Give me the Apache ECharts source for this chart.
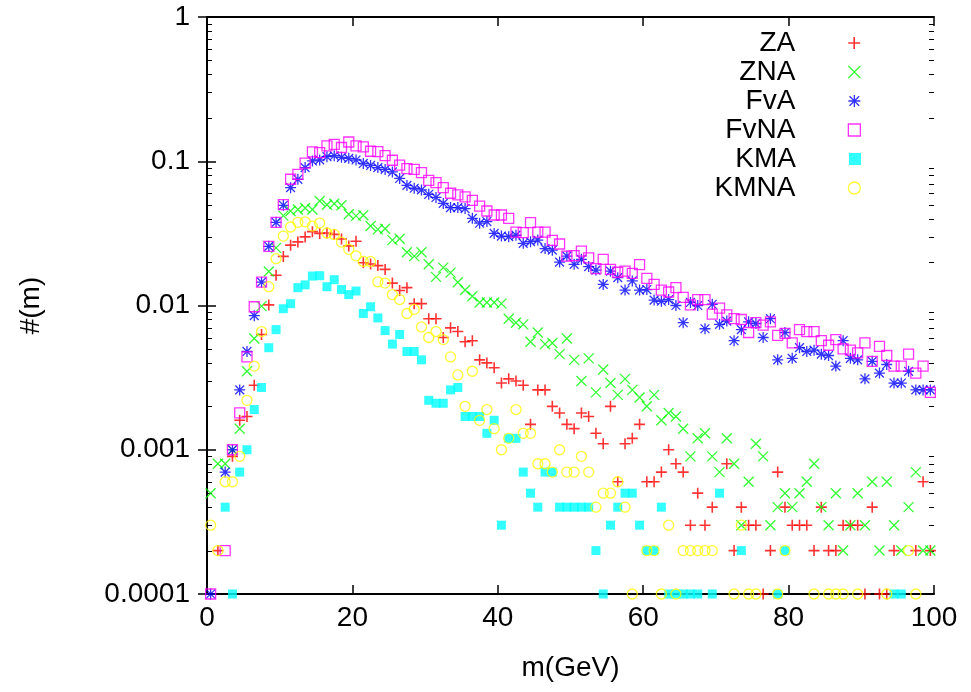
<!DOCTYPE html>
<html><head><meta charset="utf-8">
<script src="https://cdn.jsdelivr.net/npm/echarts@6/dist/echarts.min.js"></script>
<style>html,body{margin:0;padding:0;background:#fff}#main{width:971px;height:692px}</style>
</head><body><div id="main"></div>
<script>
// bin centres (m in GeV)
const mValues = [0.5,1.5,2.5,3.5,4.5,5.5,6.5,7.5,8.5,9.5,10.5,11.5,12.5,13.5,14.5,15.5,16.5,17.5,18.5,19.5,
20.5,21.5,22.5,23.5,24.5,25.5,26.5,27.5,28.5,29.5,30.5,31.5,32.5,33.5,34.5,35.5,36.5,37.5,38.5,39.5,
40.5,41.5,42.5,43.5,44.5,45.5,46.5,47.5,48.5,49.5,50.5,51.5,52.5,53.5,54.5,55.5,56.5,57.5,58.5,59.5,
60.5,61.5,62.5,63.5,64.5,65.5,66.5,67.5,68.5,69.5,70.5,71.5,72.5,73.5,74.5,75.5,76.5,77.5,78.5,79.5,
80.5,81.5,82.5,83.5,84.5,85.5,86.5,87.5,88.5,89.5,90.5,91.5,92.5,93.5,94.5,95.5,96.5,97.5,98.5,99.5];

const ZA = [null,0.0002,null,0.0009,0.0016,0.0017,0.0028,0.0063,0.0101,0.0162,
0.0219,0.0262,0.0276,0.0299,0.0325,0.0316,0.0318,0.0311,0.0289,0.0259,
0.0279,0.0198,0.0194,0.0189,0.0178,0.0143,0.0127,0.0133,0.0103,0.0103,
0.0081,0.0081,0.0060,0.0070,0.0066,0.0056,0.0057,0.0042,0.0040,0.0037,
0.0029,0.0031,0.0030,0.0028,0.0015,0.0026,0.0026,0.0020,0.0018,0.0015,
0.0014,0.0018,0.0017,0.0013,0.0011,0.0020,0.0006,0.0011,0.0012,0.0015,
0.0006,0.0006,0.0007,0.0010,0.0008,0.0007,0.0003,0.0005,0.0003,0.0004,
null,0.0008,0.0002,0.0004,0.0003,0.0003,0.0001,0.0002,0.0007,0.0004,
0.0003,0.0003,0.0003,0.0002,0.0004,0.0002,0.0002,0.0003,0.0003,0.0003,
0.0001,0.0004,0.0001,0.0001,0.0002,null,null,0.0002,0.0006,0.0002];

const ZNA = [0.0005,0.0008,0.0008,0.0010,0.0014,0.0035,0.0059,0.0099,0.0172,0.0251,
0.042,0.0452,0.0463,0.0474,0.0463,0.053,0.050,0.0508,0.0495,0.0429,
0.0418,0.0422,0.0356,0.0337,0.034,0.0284,0.029,0.0234,0.022,0.0234,
0.0193,0.0158,0.0183,0.0169,0.0145,0.0128,0.0116,0.0105,0.0105,0.0105,
0.0103,0.0081,0.0076,0.0074,0.0056,0.0065,0.0054,0.0055,0.0046,0.0059,
0.0042,0.0030,0.0043,0.0025,0.0036,0.0029,0.0024,0.0031,0.0026,0.0023,
0.0020,0.0024,0.0016,0.0018,0.0017,0.0014,0.0009,0.0012,0.0013,0.0009,
0.0007,0.0012,0.0008,0.0003,0.0006,0.0011,0.0009,0.0003,0.0004,0.0005,
0.0004,0.0005,0.0006,0.0008,0.0004,0.0003,0.0005,0.0002,0.0003,0.0005,
0.0003,0.0006,0.0002,0.0006,0.0003,0.0002,0.0004,0.0007,0.0002,0.0002];

const FvA = [0.0001,null,0.0007,0.0010,0.0026,0.0048,0.0085,0.0145,0.0257,0.0377,
0.0495,0.0656,0.075,0.0904,0.1005,0.1022,0.1075,0.1092,0.1065,0.1047,
0.102,0.0965,0.0935,0.0904,0.0878,0.0843,0.076,0.068,0.065,0.0633,
0.059,0.0561,0.051,0.0477,0.0477,0.047,0.0402,0.0372,0.0382,0.0316,
0.0303,0.030,0.0307,0.027,0.0277,0.0284,0.0248,0.0242,0.020,0.022,
0.0193,0.0209,0.0186,0.0176,0.014,0.0173,0.0156,0.0128,0.0148,0.0128,
0.0129,0.0109,0.0107,0.011,0.010,0.0076,0.0105,0.010,0.0069,0.0102,
0.0074,0.0078,0.0057,0.0068,0.0077,0.0075,0.006,0.0081,0.0042,0.0065,
0.0043,0.0051,0.0048,0.0049,0.0046,0.0045,0.0038,0.0057,0.0043,0.0042,
0.0031,0.0041,0.0034,0.0039,0.0029,0.0029,0.0035,0.0026,0.0026,0.0026];

const FvNA = [0.0001,null,0.0002,0.0010,0.0018,0.0044,0.0098,0.0145,0.0257,0.0377,
0.050,0.075,0.0812,0.0969,0.116,0.1147,0.1277,0.131,0.1245,0.136,
0.1277,0.1257,0.1173,0.1165,0.1093,0.1016,0.0939,0.0888,0.0878,0.0833,
0.0738,0.0711,0.0656,0.060,0.0584,0.0567,0.0535,0.0489,0.0452,0.0424,
0.0424,0.0402,0.0323,0.032,0.0376,0.0323,0.0323,0.0283,0.0267,0.022,
0.0222,0.0238,0.0214,0.018,0.0209,0.0178,0.017,0.0173,0.0167,0.0192,
0.0154,0.014,0.0128,0.0124,0.0133,0.0114,0.0101,0.011,0.011,0.0087,
0.0096,0.0086,0.0081,0.008,0.0065,0.0076,0.0073,0.0077,0.0062,0.0064,
0.0055,0.0068,0.0066,0.0066,0.0057,0.0053,0.0058,0.0050,0.0049,0.0047,
0.0055,0.0041,0.0052,0.0045,0.0038,0.0038,0.0046,0.0034,0.0038,0.0025];

const KMA = [null,null,0.0004,0.0001,0.0007,0.0010,0.0019,0.0027,0.0051,0.0068,
0.0095,0.0103,0.0133,0.0139,0.016,0.0161,0.0135,0.0151,0.0129,0.0119,
0.0126,0.0088,0.0098,0.0082,0.0067,0.0054,0.0063,0.0048,0.0048,0.0042,
0.0022,0.0021,0.0021,0.0026,0.0027,0.0017,0.0017,0.0017,0.0013,0.0016,
0.0003,0.0012,0.0012,0.0007,0.0005,0.0004,0.0007,0.0007,0.0004,0.0004,
0.0004,0.0004,0.0004,0.0002,0.0001,0.0003,0.0004,0.0005,0.0005,0.0003,
0.0002,0.0002,0.0004,0.0001,0.0001,0.0001,0.0001,0.0001,null,0.0001,
0.0005,null,null,0.0002,null,null,null,null,0.0001,0.0002,
null,null,null,null,null,null,null,null,null,null,
null,null,null,null,0.0001,0.0001,null,null,null,null];

const KMNA = [0.0003,0.0002,0.0006,0.0006,0.0009,0.0022,0.0038,0.0066,0.0135,0.0211,
0.0303,0.035,0.0377,0.038,0.0355,0.0373,0.0318,0.0311,0.0275,0.0245,
0.0221,0.0202,0.0202,0.0146,0.0143,0.0119,0.011,0.0088,0.0094,0.0071,
0.006,0.0066,0.0058,0.0044,0.0033,0.002,0.0035,0.0016,0.0019,0.0014,
0.001,0.0012,0.0019,0.0013,0.0013,0.0008,0.0008,0.0007,0.001,0.0007,
0.0007,0.0009,0.0007,0.0004,0.0005,0.0005,0.0006,0.0004,0.0001,null,
0.0002,0.0002,0.0001,0.0003,0.0001,0.0002,0.0002,0.0002,0.0002,0.0002,
null,null,0.0001,0.0003,0.0001,0.0001,null,null,0.0001,0.0002,
null,null,null,0.0001,null,0.0001,0.0001,0.0001,null,0.0001,
null,null,null,0.0001,null,null,0.0002,0.0001,null,null];

const seriesNames = ['ZA','ZNA','FvA','FvNA','KMA','KMNA'];
const yTickLabels = ['0.0001','0.001','0.01','0.1','1'];
const xTickLabels = ['0','20','40','60','80','100'];
const xAxisTitle = 'm(GeV)';
const yAxisTitle = '#(m)';

const FONT = "'Liberation Sans', Arial, Helvetica, sans-serif";
const FS = 28;
const seriesValues = [ZA, ZNA, FvA, FvNA, KMA, KMNA];
const T = 'rgba(0,0,0,0)';
const styles = [
  {symbol:'path://M5,0L5,10M0,5L10,5', size:11, item:{color:T, borderColor:'#ff0000', borderWidth:1.6}},
  {symbol:'path://M0,0L10,10M10,0L0,10', size:10, item:{color:T, borderColor:'#00ff00', borderWidth:1.3}},
  {symbol:'path://M5,0L5,10M0,5L10,5M1,1L9,9M9,1L1,9', size:11, item:{color:T, borderColor:'#0000ff', borderWidth:1.3}},
  {symbol:'rect', size:10, item:{color:T, borderColor:'#ff00ff', borderWidth:1.3}},
  {symbol:'rect', size:9, item:{color:'#00ffff', borderWidth:0}},
  {symbol:'circle', size:10, item:{color:T, borderColor:'#ffff00', borderWidth:1.3}}
];
const legendRows = [44,73,102,131,160,189];

function pairs(arr){
  const out = [];
  arr.forEach((v,i)=>{ if (v!==null) out.push([mValues[i], v]); });
  return out;
}

const chart = echarts.init(document.getElementById('main'), null, {renderer:'canvas'});
const axisLineStyle = {color:'#000', width:2};
const tickStyle = {color:'#000', width:1.5};
const yFmt = v => yTickLabels[Math.round(Math.log10(v)) + 4];

const option = {
  animation:false,
  backgroundColor:'#fff',
  grid:{left:207, right:37, top:17, bottom:98, containLabel:false},
  xAxis:[{
    type:'value', min:0, max:100, interval:20, position:'bottom',
    name:xAxisTitle, nameLocation:'middle', nameGap:60,
    nameTextStyle:{fontSize:FS, fontFamily:FONT, color:'#000'},
    axisLine:{show:true, lineStyle:axisLineStyle},
    axisTick:{show:true, inside:true, length:9, lineStyle:tickStyle},
    axisLabel:{fontSize:FS, fontFamily:FONT, color:'#000', margin:10,
      formatter: v => xTickLabels[Math.round(v/20)]},
    splitLine:{show:false}
  },{
    type:'value', min:0, max:100, interval:20, position:'top',
    axisLine:{show:true, lineStyle:axisLineStyle},
    axisTick:{show:true, inside:true, length:9, lineStyle:tickStyle},
    axisLabel:{show:false}, splitLine:{show:false}
  }],
  yAxis:[{
    type:'log', logBase:10, min:0.0001, max:1, position:'left',
    name:yAxisTitle, nameLocation:'middle', nameGap:162, nameRotate:90,
    nameTextStyle:{fontSize:FS, fontFamily:FONT, color:'#000'},
    axisLine:{show:true, lineStyle:axisLineStyle},
    axisTick:{show:true, inside:true, length:9, lineStyle:tickStyle},
    axisLabel:{fontSize:FS, fontFamily:FONT, color:'#000', margin:17, formatter:yFmt},
    splitLine:{show:false}
  },{
    type:'log', logBase:10, min:0.0001, max:1, position:'right',
    axisLine:{show:true, lineStyle:axisLineStyle},
    axisTick:{show:true, inside:true, length:9, lineStyle:tickStyle},
    axisLabel:{show:false}, splitLine:{show:false}
  }],
  legend: seriesNames.map((n,i)=>({
    data:[{name:n, icon:styles[i].symbol, itemStyle:styles[i].item}],
    orient:'vertical', right:971-861, top:legendRows[i]-15,
    itemWidth:12, itemHeight:12, align:'right', padding:0, selectedMode:false,
    textStyle:{fontSize:FS, fontFamily:FONT, color:'#000', padding:[0,48,0,0]}
  })),
  series: seriesNames.map((n,i)=>({
    name:n, type:'scatter', xAxisIndex:0, yAxisIndex:0, clip:false,
    symbol:styles[i].symbol, symbolSize:styles[i].size,
    itemStyle:styles[i].item,
    emphasis:{disabled:true},
    data:pairs(seriesValues[i])
  }))
};
chart.setOption(option);

// minor ticks of the logarithmic axis (2..9 in every decade) on both sides
const xl = chart.convertToPixel({xAxisIndex:0}, 0);
const xr = chart.convertToPixel({xAxisIndex:0}, 100);
const minor = [];
for (let e=-4; e<0; e++){
  for (let k=2; k<=9; k++){
    const py = Math.round(chart.convertToPixel({yAxisIndex:0}, k*Math.pow(10,e))) + 0.5;
    minor.push({type:'line', silent:true, shape:{x1:xl, y1:py, x2:xl+5, y2:py}, style:{stroke:'#000', lineWidth:1}});
    minor.push({type:'line', silent:true, shape:{x1:xr-5, y1:py, x2:xr, y2:py}, style:{stroke:'#000', lineWidth:1}});
  }
}
chart.setOption({graphic:minor});
</script>
</body></html>
